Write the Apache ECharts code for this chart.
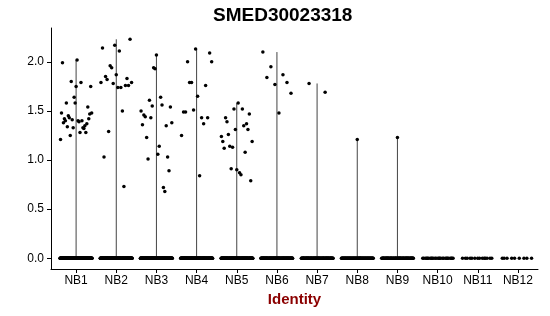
<!DOCTYPE html>
<html>
<head>
<meta charset="utf-8">
<script src="https://cdn.jsdelivr.net/npm/echarts@6/dist/echarts.min.js"></script>
<style>html,body{margin:0;padding:0;background:#fff}#c{width:550px;height:316px}</style>
</head>
<body>
<div id="c"></div>
<script>
// ---- data ----
const title = 'SMED30023318';
const xTitle = 'Identity';
const categories = ['NB1','NB2','NB3','NB4','NB5','NB6','NB7','NB8','NB9','NB10','NB11','NB12'];
// number of cells with zero expression per identity (estimated)
const zeroCounts = [180, 170, 160, 150, 140, 120, 100, 90, 80, 26, 14, 9];
// non-zero expression values, listed in left-to-right order as seen
const nb1 = [1.21,1.48,1.99,1.38,1.42,1.40,1.58,1.34,1.45,1.43,1.25,1.80,1.41,1.33,1.64,1.58,1.75,2.02,1.40,1.39,1.28,1.79,1.40,1.33,1.32,1.35,1.28,1.37,1.54,1.42,1.47,1.75,1.48];
const nb2 = [1.79,2.14,1.03,1.85,1.82,1.29,1.96,1.94,1.78,2.17,1.87,1.74,2.11,1.74,1.50,0.73,1.76,1.83,1.76,2.23,1.79];
const nb3 = [1.50,1.36,1.46,1.44,1.23,1.01,1.61,1.43,1.55,1.94,1.93,2.07,1.06,1.14,1.64,1.56,0.72,0.68,1.35,1.03,0.89,1.54,1.38];
const nb4 = [1.25,1.49,1.49,2.00,1.79,1.79,1.51,2.13,1.65,0.84,1.43,1.37,1.76,1.43,2.09,2.00];
const nb5 = [1.24,1.19,1.12,1.43,1.39,1.26,1.14,0.91,1.13,1.52,1.31,0.90,1.58,0.87,0.85,1.52,1.35,1.08,1.37,1.31,1.47,0.79,1.19];
const nb6 = [2.10,1.84,1.95,1.77,1.48,1.87,1.79,1.68];
const nb7 = [1.78,1.69];
const nb8 = [1.21];
const nb9 = [1.23];
const nb10 = [];
const nb11 = [];
const nb12 = [];
const yTicks = [0, 0.5, 1.0, 1.5, 2.0];

// ---- build series data ----
const groups = [nb1,nb2,nb3,nb4,nb5,nb6,nb7,nb8,nb9,nb10,nb11,nb12];
const catPos = categories.map((c, i) => i + 1);
const JW = 0.4; // jitter half-width (category units)
const PHI = 0.6180339887;
const points = [];
groups.forEach((vals, g) => {
  const c = catPos[g];
  for (let i = 0; i < zeroCounts[g]; i++) {
    const f = (i * PHI + 0.37 * g) % 1;
    points.push([c - JW + 2 * JW * f, 0]);
  }
  vals.forEach((v, i) => {
    points.push([c - JW + 2 * JW * (i + 0.5) / vals.length, v]);
  });
});
const ranges = [];
groups.forEach((vals, g) => {
  if (vals.length) ranges.push([catPos[g], 0, Math.max(...vals)]);
});

const FONT = 'Liberation Sans, Arial, Helvetica, sans-serif';
const chart = echarts.init(document.getElementById('c'), null, {renderer: 'canvas'});
chart.setOption({
  animation: false,
  backgroundColor: '#fff',
  title: {
    text: title, left: 213, top: 6, padding: 0,
    textStyle: {fontSize: 19, fontWeight: 'bold', color: '#000', fontFamily: FONT}
  },
  grid: {left: 51, right: 12, top: 28, bottom: 47, containLabel: false},
  xAxis: {
    type: 'value', min: 0.375, max: 12.5,
    axisLine: {show: true, onZero: false, lineStyle: {color: '#000', width: 1}},
    splitLine: {show: false},
    axisTick: {show: true, customValues: catPos, length: 4, lineStyle: {color: '#000'}},
    axisLabel: {customValues: catPos, formatter: v => categories[Math.round(v) - 1],
      color: '#000', fontSize: 12, margin: 6, fontFamily: FONT},
    name: xTitle, nameLocation: 'middle', nameGap: 22,
    nameTextStyle: {color: '#8B0000', fontSize: 15, fontWeight: 'bold', fontFamily: FONT}
  },
  yAxis: {
    type: 'value', min: -0.11, max: 2.345,
    axisLine: {show: true, onZero: false, lineStyle: {color: '#000', width: 1}},
    splitLine: {show: false},
    axisTick: {show: true, customValues: yTicks, length: 4, lineStyle: {color: '#000'}},
    axisLabel: {customValues: yTicks, formatter: v => v.toFixed(1),
      color: '#000', fontSize: 12, margin: 7, fontFamily: FONT}
  },
  series: [
    {
      type: 'custom', silent: true, z: 1,
      data: ranges,
      renderItem: (params, api) => {
        const p0 = api.coord([api.value(0), api.value(1)]);
        const p1 = api.coord([api.value(0), api.value(2)]);
        return {type: 'line', shape: {x1: p0[0], y1: p0[1], x2: p1[0], y2: p1[1]},
          style: {stroke: '#444', lineWidth: 1}};
      }
    },
    {
      type: 'scatter', silent: true, z: 2,
      symbol: 'circle', symbolSize: 3.5,
      itemStyle: {color: '#000', opacity: 1},
      data: points
    }
  ]
});
</script>
</body>
</html>
